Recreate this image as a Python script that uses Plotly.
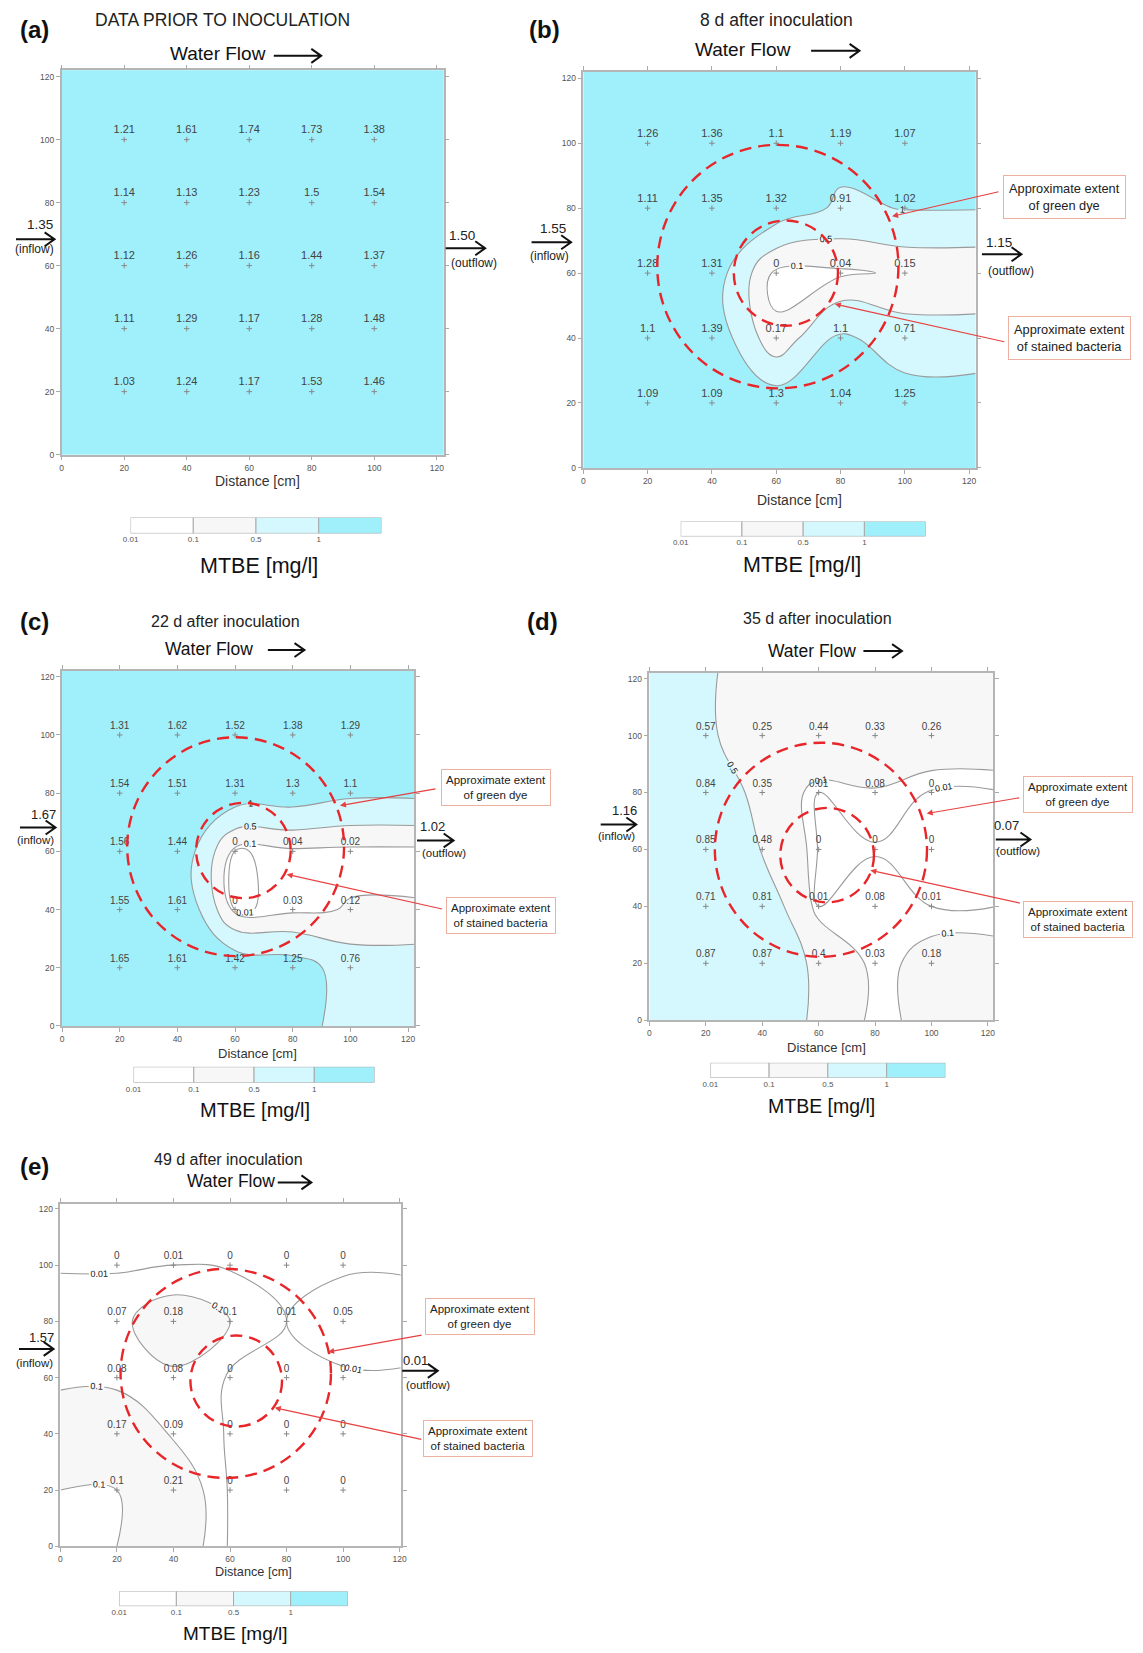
import numpy as np
import plotly.graph_objects as go

W, H = 1143, 1653          # page (window) size in px
PAGE_OFF = 8               # default body margin of the html page
WF, HF = W - PAGE_OFF, H - PAGE_OFF

# ---------------- data ----------------
grid_x = [20, 40, 60, 80, 100]
grid_y = [100, 80, 60, 40, 20]          # rows listed top -> bottom

mtbe_a = [[1.21, 1.61, 1.74, 1.73, 1.38],
          [1.14, 1.13, 1.23, 1.5, 1.54],
          [1.12, 1.26, 1.16, 1.44, 1.37],
          [1.11, 1.29, 1.17, 1.28, 1.48],
          [1.03, 1.24, 1.17, 1.53, 1.46]]
mtbe_b = [[1.26, 1.36, 1.1, 1.19, 1.07],
          [1.11, 1.35, 1.32, 0.91, 1.02],
          [1.28, 1.31, 0, 0.04, 0.15],
          [1.1, 1.39, 0.17, 1.1, 0.71],
          [1.09, 1.09, 1.3, 1.04, 1.25]]
mtbe_c = [[1.31, 1.62, 1.52, 1.38, 1.29],
          [1.54, 1.51, 1.31, 1.3, 1.1],
          [1.56, 1.44, 0, 0.04, 0.02],
          [1.55, 1.61, 0, 0.03, 0.12],
          [1.65, 1.61, 1.42, 1.25, 0.76]]
mtbe_d = [[0.57, 0.25, 0.44, 0.33, 0.26],
          [0.84, 0.35, 0.01, 0.08, 0],
          [0.85, 0.48, 0, 0, 0],
          [0.71, 0.81, 0.01, 0.08, 0.01],
          [0.87, 0.87, 0.4, 0.03, 0.18]]
mtbe_e = [[0, 0.01, 0, 0, 0],
          [0.07, 0.18, 0.1, 0.01, 0.05],
          [0.08, 0.08, 0, 0, 0],
          [0.17, 0.09, 0, 0, 0],
          [0.1, 0.21, 0, 0, 0]]

inflow_values = ["1.35", "1.55", "1.67", "1.16", "1.57"]
outflow_values = ["1.50", "1.15", "1.02", "0.07", "0.01"]
panel_letters = ["(a)", "(b)", "(c)", "(d)", "(e)"]
panel_titles = ["DATA PRIOR TO INOCULATION", "8 d after inoculation",
                "22 d after inoculation", "35 d after inoculation",
                "49 d after inoculation"]

# approximate extents (cx, cy, r) in cm; None for panel (a)
dye_extent = [None, (60.5, 62, 37.5), (60.2, 61.6, 37.6), (60.8, 59.9, 37.6), (58.5, 61.5, 37.2)]
bacteria_extent = [None, (63, 60, 16.2), (62.9, 60.3, 16.4), (63, 58, 16.6), (62.2, 58.8, 16.2)]

class_breaks = [0.01, 0.1, 0.5, 1]
class_labels = ["0.01", "0.1", "0.5", "1"]
class_colors = ["#ffffff", "#f7f7f7", "#d4f8fd", "#a0f0fc"]
line_levels = [[], [0.1, 0.5, 1], [0.01, 0.1, 0.5, 1], [0.01, 0.1, 0.5, 1], [0.01, 0.1, 0.5, 1]]

all_z = [mtbe_a, mtbe_b, mtbe_c, mtbe_d, mtbe_e]

# ---------------- layout geometry (page pixels) ----------------
plots = [  # L, T, R, B, xmax, ymax
    (54.3, 70.5, 441, 456, 122.2, 122),
    (582.4, 72, 979.6, 469.3, 122, 122),
    (54.6, 673, 411.4, 1029, 122.2, 122),
    (649.3, 675, 997.2, 1023.3, 121.8, 122),
    (52.9, 1207.8, 397.6, 1551, 120.4, 121.7),
]
cbars = [(124, 519, 378, 535), (681, 523, 929, 538), (127, 1070, 371, 1086),
         (711, 1066, 949, 1081), (112.5, 1596, 344, 1611)]
mtbe_pos = [(254, 568), (804, 567), (250, 1113), (824, 1109), (230, 1638)]
dist_pos = [(253, 482), (801, 502), (253, 1057), (829, 1051), (248, 1577)]
letter_pos = [(27, 30), (543, 30), (27, 623), (541, 623), (27, 1170)]
title_pos = [(217, 20), (778, 20), (220, 623), (820, 620), (223, 1163)]
flow_text = [(162, 54), (693, 50), (157, 651), (767, 653), (179, 1185)]
flow_arrow = [(269, 317, 56), (813, 862, 51), (263, 300, 652), (866, 905, 653), (273, 307, 1186)]
in_num = [(32, 225), (552, 229), (36, 817), (624, 813), (34, 1342)]
in_arrow = [(8, 47, 240), (530, 570, 243), (12, 48, 830), (600, 636, 827), (11, 46, 1353)]
in_lbl = [(27, 250), (548, 257), (28, 843), (616, 839), (27, 1367)]
out_num = [(460, 236), (1003, 243), (430, 829), (1011, 828), (412, 1365)]
out_arrow = [(443, 483, 249), (986, 1026, 255), (414, 451, 843), (1000, 1035, 842), (399, 435, 1375)]
out_lbl = [(472, 264), (1015, 272), (441, 856), (1023, 854), (425, 1389)]
green_box = [None, (1003, 173, 1137, 222), (433, 768, 555, 812), (1024, 776, 1142, 818), (419, 1298, 536, 1342)]
green_arr = [None, (1003, 192, 895, 217), (433, 791, 336, 808), (1024, 800, 930, 816), (419, 1339, 324, 1356)]
stain_box = [None, (1008, 315, 1142, 364), (439, 895, 559, 941), (1024, 901, 1142, 944), (418, 1422, 534, 1464)]
stain_arr = [None, (1008, 343, 837, 305), (439, 912, 282, 877), (1024, 906, 873, 873), (418, 1444, 270, 1412)]

# font sizes per panel
fs_title = [17.5, 17.5, 16, 16, 16]
fs_flow = [19, 19, 17.5, 17.5, 17.5]
fs_point = [11, 11, 10, 10, 10]
fs_mtbe = [21.5, 21.5, 20, 19.5, 19]
fs_dist = [14, 14, 13, 13, 12.7]
fs_io = [13.5, 13.5, 13, 13, 13]
fs_iol = [12, 12, 11.5, 11.5, 11.5]


def fx(px):
    return (px - PAGE_OFF) / WF


def fy(py):
    return 1 - (py - PAGE_OFF) / HF


FONT = "Liberation Sans, Arial, sans-serif"
fig = go.Figure()
annotations = []
shapes = []
layout = {}

x_pad = [0] + grid_x + [123]
y_asc = sorted(grid_y)
y_pad = [0] + y_asc + [123]

for i in range(5):
    n = i + 1
    ax_s = "" if n == 1 else str(n)
    xa, ya = "x" + ax_s, "y" + ax_s
    L, T, R, B, xmax, ymax = plots[i]
    z = np.array(all_z[i], dtype=float)[::-1]          # bottom -> top
    zp = np.pad(z, 1, mode="edge")

    # filled classes (constraint shading marks the region where z >= level)
    for lvl, col in zip(class_breaks[1:], class_colors[1:]):
        fig.add_trace(go.Contour(
            x=x_pad, y=y_pad, z=zp, xaxis=xa, yaxis=ya,
            contours=dict(type="constraint", operation="<", value=lvl,
                          showlabels=lvl in line_levels[i],
                          labelfont=dict(size=9, color="#111", family=FONT)),
            fillcolor=col,
            line=dict(color="#9a9a9a" if lvl in line_levels[i] else "rgba(0,0,0,0)",
                      width=1.1, smoothing=1.2),
            showscale=False, hoverinfo="skip"))
    if 0.01 in line_levels[i]:
        fig.add_trace(go.Contour(
            x=x_pad, y=y_pad, z=zp, xaxis=xa, yaxis=ya,
            contours=dict(type="constraint", operation="=", value=0.01, showlabels=True,
                          labelfont=dict(size=9, color="#111", family=FONT)),
            line=dict(color="#9a9a9a", width=1.1, smoothing=1.2),
            showscale=False, hoverinfo="skip"))

    # sample points
    px_, py_, tx_ = [], [], []
    for r, yy in enumerate(grid_y):
        for c, xx in enumerate(grid_x):
            px_.append(xx)
            py_.append(yy)
            tx_.append(f"{all_z[i][r][c]:g}")
    fig.add_trace(go.Scatter(
        x=px_, y=py_, text=tx_, mode="markers+text", textposition="top center",
        textfont=dict(size=fs_point[i], color="#444", family=FONT),
        marker=dict(symbol="cross-thin", size=4, line=dict(color="#888", width=1)),
        xaxis=xa, yaxis=ya, hoverinfo="skip"))

    common = dict(showgrid=False, zeroline=False, ticks="outside", ticklen=4,
                  tickcolor="#aaa", linecolor="#b5b5b5", linewidth=1.5, mirror="ticks",
                  tick0=0, dtick=20, tickfont=dict(size=8.5, color="#555", family=FONT))
    layout["xaxis" + ax_s] = dict(domain=[fx(L), fx(R)], range=[0, xmax], anchor=ya, **common)
    layout["yaxis" + ax_s] = dict(domain=[fy(B), fy(T)], range=[0, ymax], anchor=xa, **common)

    # circles
    for ext in (dye_extent[i], bacteria_extent[i]):
        if ext is None:
            continue
        cx, cy, rr = ext
        shapes.append(dict(type="circle", xref=xa, yref=ya, x0=cx - rr, x1=cx + rr,
                           y0=cy - rr, y1=cy + rr,
                           line=dict(color="#e8262a", width=2.4, dash="12px,7px"), layer="above"))

    # colour bar
    cn = str(n + 5)
    cxa, cya = "x" + cn, "y" + cn
    cl, ct, cr, cb = cbars[i]
    fig.add_trace(go.Bar(x=[0.5, 1.5, 2.5, 3.5], y=[1, 1, 1, 1], width=[1, 1, 1, 1],
                         marker=dict(color=class_colors, line=dict(color="#aaa", width=1)),
                         xaxis=cxa, yaxis=cya, hoverinfo="skip"))
    layout["xaxis" + cn] = dict(domain=[fx(cl), fx(cr)], range=[0, 4], anchor=cya,
                                tickvals=[0, 1, 2, 3], ticktext=class_labels, ticks="",
                                showgrid=False, zeroline=False, showline=False,
                                tickfont=dict(size=8, color="#555", family=FONT))
    layout["yaxis" + cn] = dict(domain=[fy(cb), fy(ct)], range=[0, 1], anchor=cxa,
                                visible=False)

    def txt(x, y, s, size, color="#222", xanchor="center"):
        annotations.append(dict(x=fx(x), y=fy(y), xref="paper", yref="paper", text=s,
                                showarrow=False, xanchor=xanchor, yanchor="middle",
                                font=dict(size=size, color=color, family=FONT)))

    txt(*mtbe_pos[i], "MTBE [mg/l]", fs_mtbe[i], "#111")
    txt(*dist_pos[i], "Distance [cm]", fs_dist[i], "#333")
    txt(*letter_pos[i], "<b>" + panel_letters[i] + "</b>", 24, "#111")
    txt(*title_pos[i], panel_titles[i], fs_title[i], "#222")
    txt(*flow_text[i], "Water Flow", fs_flow[i], "#111", xanchor="left")
    txt(*in_num[i], inflow_values[i], fs_io[i], "#222")
    txt(*in_lbl[i], "(inflow)", fs_iol[i], "#222")
    txt(*out_num[i], outflow_values[i], fs_io[i], "#222")
    txt(*out_lbl[i], "(outflow)", fs_iol[i], "#222")

    for (x0, x1, yy) in (flow_arrow[i], in_arrow[i], out_arrow[i]):
        path = (f"M {fx(x0)},{fy(yy)} L {fx(x1)},{fy(yy)} "
                f"M {fx(x1 - 10)},{fy(yy - 7)} L {fx(x1)},{fy(yy)} L {fx(x1 - 10)},{fy(yy + 7)}")
        shapes.append(dict(type="path", xref="paper", yref="paper", path=path,
                           line=dict(color="#111", width=2)))

    # callouts
    for box, arr, label in ((green_box[i], green_arr[i], "Approximate extent<br>of green dye"),
                            (stain_box[i], stain_arr[i], "Approximate extent<br>of stained bacteria")):
        if box is None:
            continue
        bl, bt, br, bb = box
        sx, sy, tx, ty = arr
        annotations.append(dict(x=fx(tx), y=fy(ty), xref="paper", yref="paper", text="",
                                showarrow=True, ax=sx - tx, ay=sy - ty, axref="pixel", ayref="pixel",
                                arrowcolor="#e84040", arrowwidth=1.2, arrowhead=2, arrowsize=1))
        fs = 12.8 if i == 1 else 11.5
        annotations.append(dict(x=fx((bl + br) / 2), y=fy((bt + bb) / 2), xref="paper", yref="paper",
                                text=label, showarrow=False, xanchor="center", yanchor="middle",
                                bgcolor="white", bordercolor="#eeb0a0", borderwidth=1,
                                borderpad=5 if i == 1 else 4,
                                font=dict(size=fs, color="#222", family=FONT)))

fig.update_layout(width=WF, height=HF, margin=dict(l=0, r=0, t=0, b=0),
                  plot_bgcolor="white", paper_bgcolor="white", showlegend=False,
                  font=dict(family=FONT), annotations=annotations, shapes=shapes,
                  barmode="overlay", **layout)
fig.write_html("out.html")
